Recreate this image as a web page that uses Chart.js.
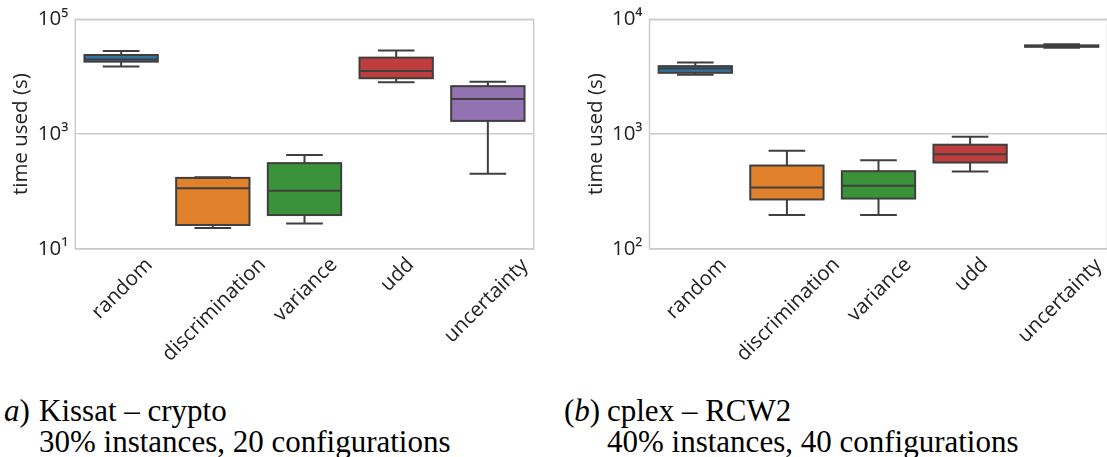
<!DOCTYPE html>
<html><head><meta charset="utf-8">
<script src="https://cdn.jsdelivr.net/npm/chart.js@4.4.1/dist/chart.umd.min.js"></script>
<style>
html,body{margin:0;padding:0;background:#fff;overflow:hidden;width:1107px;height:457px;position:relative;}
#wrapA{position:absolute;left:0;top:0;width:550px;height:370px;}
#wrapB{position:absolute;left:550px;top:0;width:560px;height:370px;}
.cap{position:absolute;font-family:"Liberation Serif","Times New Roman",serif;font-size:31px;color:#000;line-height:31px;white-space:nowrap;}
</style></head>
<body>
<div id="wrapA"><canvas id="cA" width="550" height="370"></canvas></div>
<div id="wrapB"><canvas id="cB" width="560" height="370"></canvas></div>
<div class="cap" style="left:4px;top:395px;"><i>a</i>)</div>
<div class="cap" style="left:39px;top:395px;">Kissat – crypto<br>30% instances, 20 configurations</div>
<div class="cap" style="left:564px;top:395px;">(<i>b</i>)</div>
<div class="cap" style="left:607px;top:395px;">cplex – RCW2<br>40% instances, 40 configurations</div>
<script>
// ---- data ----
const categories = ['random', 'discrimination', 'variance', 'udd', 'uncertainty'];
const boxColors = ['#3274a1', '#e1812c', '#3a923a', '#c03d3e', '#9372b2'];

// (a) Kissat – crypto
const kissatMin    = [15000, 23.2, 27.7, 8040, 205];
const kissatQ1     = [18300, 26.2, 39.0, 9420, 1700];
const kissatMedian = [20000, 114, 103, 12600, 4090];
const kissatQ3     = [23900, 173, 313, 21500, 6850];
const kissatMax    = [28000, 177, 435, 28700, 8170];
const kissatTicks  = [10, 1000, 100000];

// (b) cplex – RCW2
const cplexMin    = [3290, 198, 198, 473, 5650];
const cplexQ1     = [3420, 270, 275, 566, 5760];
const cplexMedian = [3730, 344, 356, 667, 5850];
const cplexQ3     = [3910, 533, 476, 809, 5930];
const cplexMax    = [4200, 718, 592, 948, 6050];
const cplexTicks  = [100, 1000, 10000];

const yTitle = 'time used (s)';

// ---- helpers ----
const SUP = {'0':'⁰','1':'¹','2':'²','3':'³','4':'⁴','5':'⁵','6':'⁶','7':'⁷','8':'⁸','9':'⁹','-':'⁻'};
function powLabel(v) {
  const e = String(Math.round(Math.log10(v)));
  return '10' + e.split('').map(ch => SUP[ch]).join('');
}
const LINE = '#3f3f3f';
const TEXT = '#222222';
const FONT = '"Open Sans", "DejaVu Sans", sans-serif';
const FS = 20.5;

function boxPlugin(stats) {
  return {
    id: 'boxParts',
    beforeDraw(chart) {
      const ctx = chart.ctx;
      ctx.save();
      ctx.fillStyle = '#ffffff';
      ctx.fillRect(0, 0, chart.width, chart.height);
      ctx.restore();
    },
    afterDatasetsDraw(chart) {
      const ctx = chart.ctx, ys = chart.scales.y;
      const meta = chart.getDatasetMeta(0);
      ctx.save();
      ctx.strokeStyle = LINE;
      ctx.lineWidth = 2;
      const seg = (x1, y1, x2, y2) => { ctx.beginPath(); ctx.moveTo(x1, y1); ctx.lineTo(x2, y2); ctx.stroke(); };
      meta.data.forEach((bar, i) => {
        const p = bar.getProps(['x', 'y', 'base', 'width'], true);
        const cx = p.x, w = p.width;
        const yMin = ys.getPixelForValue(stats.min[i]);
        const yMax = ys.getPixelForValue(stats.max[i]);
        const yQ1 = ys.getPixelForValue(stats.q1[i]);
        const yQ3 = ys.getPixelForValue(stats.q3[i]);
        const yMed = ys.getPixelForValue(stats.median[i]);
        // whiskers
        seg(cx, yQ1, cx, yMin);
        seg(cx, yQ3, cx, yMax);
        // caps
        seg(cx - w / 4, yMin, cx + w / 4, yMin);
        seg(cx - w / 4, yMax, cx + w / 4, yMax);
        // box outline
        ctx.strokeRect(cx - w / 2, Math.min(yQ1, yQ3), w, Math.abs(yQ1 - yQ3));
        // median
        seg(cx - w / 2, yMed, cx + w / 2, yMed);
      });
      ctx.restore();
    },
    afterDraw(chart) {
      const ctx = chart.ctx, a = chart.chartArea, xs = chart.scales.x;
      // frame (spines)
      ctx.save();
      ctx.strokeStyle = '#cccccc';
      ctx.lineWidth = 1.5;
      ctx.strokeRect(a.left, a.top, a.right - a.left, a.bottom - a.top);
      // rotated category labels, centred under each tick like matplotlib
      ctx.fillStyle = TEXT;
      ctx.font = FS + 'px ' + FONT;
      ctx.textAlign = 'center';
      ctx.textBaseline = 'alphabetic';
      const c = Math.SQRT1_2;
      const topY = a.bottom + 7;
      categories.forEach((lab, i) => {
        const tx = xs.getPixelForValue(i);
        const m = ctx.measureText(lab);
        const L = m.actualBoundingBoxLeft, R = m.actualBoundingBoxRight;
        const asc = m.actualBoundingBoxAscent, desc = m.actualBoundingBoxDescent;
        const ax = tx - c * (R + desc - L - asc) / 2;
        const ay = topY + c * (R + asc);
        ctx.save();
        ctx.translate(ax, ay);
        ctx.rotate(-Math.PI / 4);
        ctx.fillText(lab, 0, 0);
        ctx.restore();
      });
      ctx.restore();
    }
  };
}

function makeChart(id, stats, ticks, yMin, yMax, yWidth, padRight, titlePad) {
  const ctx = document.getElementById(id).getContext('2d');
  return new Chart(ctx, {
    type: 'bar',
    data: {
      labels: categories,
      datasets: [{
        data: categories.map((_, i) => [stats.q1[i], stats.q3[i]]),
        backgroundColor: boxColors,
        borderWidth: 0,
        barPercentage: 0.8,
        categoryPercentage: 1.0
      }]
    },
    options: {
      responsive: false,
      animation: false,
      devicePixelRatio: 1,
      layout: { padding: { left: 0, right: padRight, top: 17.3, bottom: 121 } },
      plugins: { legend: { display: false }, tooltip: { enabled: false } },
      scales: {
        x: {
          type: 'category',
          grid: { display: false, drawTicks: false },
          border: { display: false },
          ticks: { display: false },
          afterFit(s) { s.height = 0; }
        },
        y: {
          type: 'logarithmic',
          min: yMin,
          max: yMax,
          afterBuildTicks(s) { s.ticks = ticks.map(v => ({ value: v, major: true })); },
          afterFit(s) { s.width = yWidth; },
          grid: { color: '#cccccc', lineWidth: 1.5, drawTicks: false },
          border: { display: false },
          ticks: {
            padding: 7,
            color: TEXT,
            font: { family: FONT, size: FS },
            callback: (v) => powLabel(v)
          },
          title: {
            display: true,
            text: yTitle,
            color: TEXT,
            font: { family: FONT, size: FS },
            padding: { top: titlePad, bottom: 0 }
          }
        }
      }
    },
    plugins: [boxPlugin(stats)]
  });
}

makeChart('cA',
  { min: kissatMin, q1: kissatQ1, median: kissatMedian, q3: kissatQ3, max: kissatMax },
  kissatTicks, 10, 100000, 75.3, 16.3, 21 - FS * 0.6);
makeChart('cB',
  { min: cplexMin, q1: cplexQ1, median: cplexMedian, q3: cplexQ3, max: cplexMax },
  cplexTicks, 100, 10000, 99.5, 2.5, 46 - FS * 0.6);
</script>
</body></html>
